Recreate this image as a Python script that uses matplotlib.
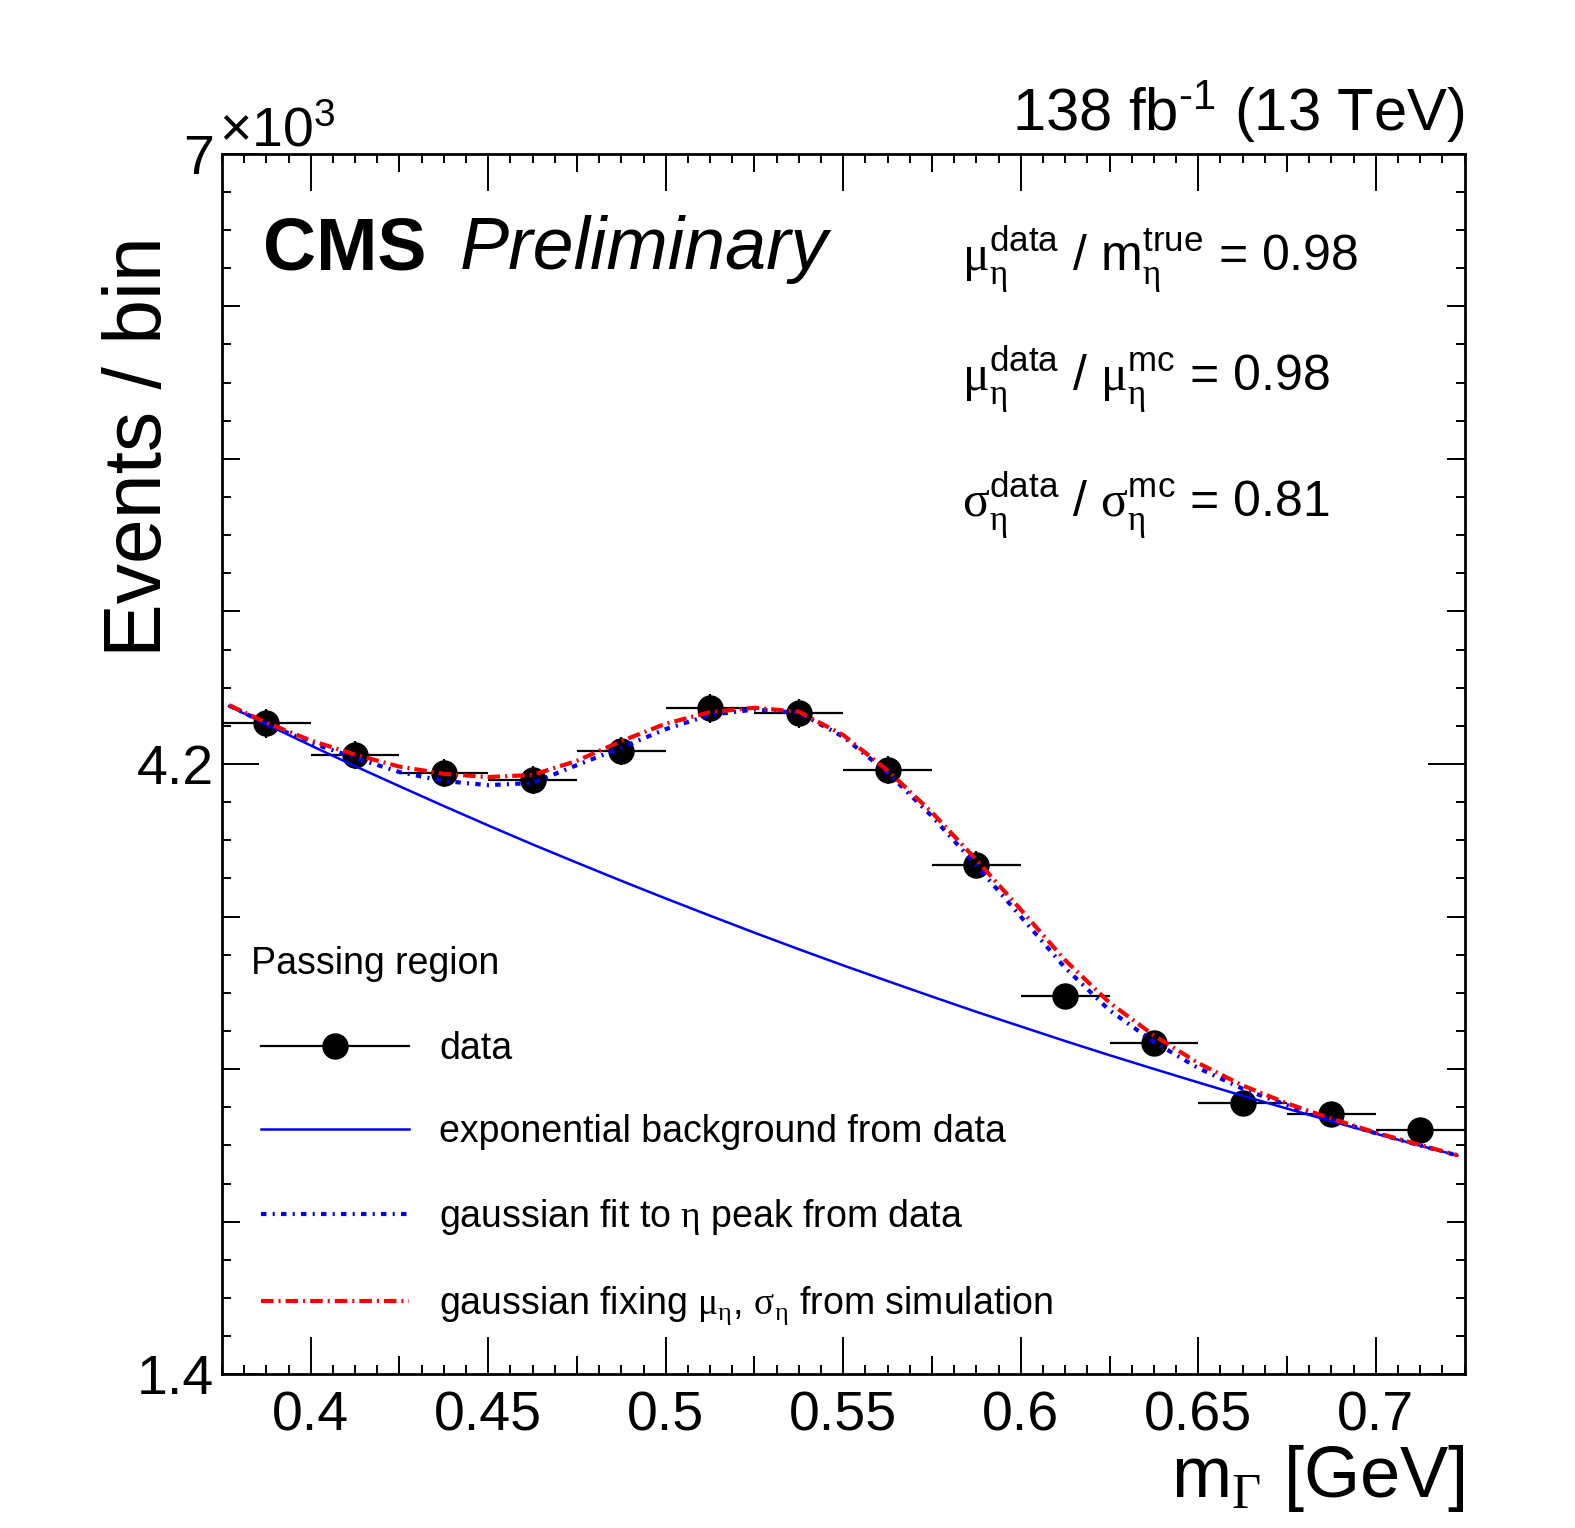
import numpy as np
import matplotlib
matplotlib.use("Agg")
import matplotlib.pyplot as plt
from matplotlib.lines import Line2D
from matplotlib.ticker import MultipleLocator

plt.rcParams['font.family'] = ['Liberation Sans', 'DejaVu Sans']
plt.rcParams['mathtext.fontset'] = 'custom'
plt.rcParams['mathtext.rm'] = 'Liberation Sans'
plt.rcParams['mathtext.it'] = 'Liberation Sans:italic'
plt.rcParams['mathtext.bf'] = 'Liberation Sans:bold'
plt.rcParams['mathtext.sf'] = 'Liberation Serif'  # used for the greek letters

# data histogram (bin centres, counts, stat errors)
bin_centers = [0.3875, 0.4125, 0.4375, 0.4625, 0.4875, 0.5125, 0.5375,
               0.5625, 0.5875, 0.6125, 0.6375, 0.6625, 0.6875, 0.7125]
bin_width = 0.025
counts = [4386, 4240, 4159, 4125, 4260, 4456, 4433,
          4171, 3738, 3134, 2922, 2646, 2592, 2523]
count_err = [66, 65, 64, 64, 65, 67, 67, 65, 61, 56, 54, 51, 51, 50]

# fit curves
curve_x = [0.377, 0.3875, 0.4, 0.4125, 0.425, 0.4375, 0.45, 0.4625, 0.475,
           0.4875, 0.5, 0.5125, 0.525, 0.5375, 0.55, 0.5625, 0.575, 0.5875,
           0.6, 0.6125, 0.625, 0.6375, 0.65, 0.6625, 0.675, 0.6875, 0.7,
           0.7125, 0.723]
bkg_exp = [4465, 4382, 4285, 4190, 4098, 4007, 3918, 3831, 3747,
           3664, 3583, 3504, 3426, 3350, 3276, 3204, 3133, 3063,
           2996, 2929, 2864, 2801, 2739, 2678, 2619, 2561, 2504,
           2449, 2404]
fit_data = [4468, 4385, 4298, 4228, 4163, 4122, 4103, 4113, 4195,
            4275, 4360, 4425, 4450, 4435, 4325, 4160, 3960, 3735,
            3500, 3265, 3070, 2925, 2805, 2710, 2635, 2568, 2506,
            2450, 2404]
fit_mc = [4470, 4390, 4308, 4243, 4188, 4155, 4140, 4150, 4215,
          4305, 4385, 4438, 4458, 4440, 4333, 4170, 3978, 3760,
          3532, 3300, 3105, 2955, 2828, 2725, 2643, 2573, 2509,
          2452, 2405]

y_ticks = [1400, 4200, 7000]
y_ticklabels = ['1.4', '4.2', '7']
x_ticks = [0.4, 0.45, 0.5, 0.55, 0.6, 0.65, 0.7]
x_ticklabels = ['0.4', '0.45', '0.5', '0.55', '0.6', '0.65', '0.7']

blue_dash = (0, (1.3, 1.5, 0.5, 1.5))
red_dash = (0, (3.0, 1.2, 0.5, 1.2))

W, H = 1568, 1521   # layout measured on this grid


def fx(p):
    return p / W


def fy(p):
    return 1 - p / H


fig = plt.figure(figsize=(15.75, 15.28), dpi=100)
pos = [fx(221), fy(1368), fx(1458) - fx(221), fy(153) - fy(1368)]
ax = fig.add_axes(pos)

ax.errorbar(bin_centers, counts, xerr=bin_width / 2, yerr=count_err,
            fmt='o', color='black', ms=18, elinewidth=1.6, capsize=0, zorder=3)
ax.plot(curve_x, bkg_exp, color='blue', lw=1.8, zorder=4)
ax.plot(curve_x, fit_data, color='blue', lw=3, ls=blue_dash, zorder=5)
ax.plot(curve_x, fit_mc, color='red', lw=3, ls=red_dash, zorder=6)

ax.set_xlim(0.375, 0.725)
ax.set_ylim(1400, 7000)
ax.set_xticks(x_ticks, x_ticklabels)
ax.set_yticks(y_ticks, y_ticklabels)
ax.xaxis.set_minor_locator(MultipleLocator(0.00625))
ax.yaxis.set_minor_locator(MultipleLocator(175))
ax.tick_params(which='both', direction='in', top=True, right=True, width=1.4)
ax.tick_params(which='major', length=26.5, labelsize=40)
ax.tick_params(which='minor', length=6.5)
ax.tick_params(axis='x', which='major', pad=12)
ax.tick_params(axis='y', which='major', pad=6)
for sp in ax.spines.values():
    sp.set_linewidth(2)

# medium ticks (ROOT style) on an overlay axes
ax2 = fig.add_axes(pos, frameon=False)
ax2.set_xlim(0.375, 0.725)
ax2.set_ylim(1400, 7000)
ax2.set_xticks(np.arange(0.425, 0.72, 0.05))
ax2.set_yticks([2100, 2800, 3500, 4900, 5600, 6300])
ax2.tick_params(direction='in', length=13, width=1.4, top=True, right=True,
                labelbottom=False, labelleft=False)

# legend
handles = [Line2D([], [], color='black', marker='o', ms=18, lw=1.6),
           Line2D([], [], color='blue', lw=1.8),
           Line2D([], [], color='blue', lw=3, ls=blue_dash),
           Line2D([], [], color='red', lw=3, ls=red_dash)]
labels = ['data', 'exponential background from data',
          r'gaussian fit to $\mathsf{\eta}$ peak from data',
          r'gaussian fixing $\mathsf{\mu}_{\mathsf{\eta}}$, '
          r'$\mathsf{\sigma}_{\mathsf{\eta}}$ from simulation']
leg = fig.legend(handles, labels, loc='upper left',
                 bbox_to_anchor=(fx(260), fy(1026)),
                 bbox_transform=fig.transFigure, frameon=False, fontsize=27,
                 handlelength=3.95, handletextpad=0.8, labelspacing=1.26,
                 numpoints=1, borderaxespad=0, borderpad=0)
fig.text(fx(250), fy(960), 'Passing region', fontsize=27, va='center')

# texts
fig.text(fx(139), fy(445), 'Events / bin', rotation=90,
         ha='center', va='center', fontsize=58)
fig.text(fx(1458), fy(1490), r'$\mathrm{m}_{\mathsf{\Gamma}}$ [GeV]',
         ha='right', va='baseline', fontsize=52)
fig.text(fx(218), fy(146), r'$\times$10$^{3}$',
         ha='left', va='baseline', fontsize=40)
fig.text(fx(1458), fy(130), r'138 fb$^{\text{-1}}$ (13 TeV)',
         ha='right', va='baseline', fontsize=43)
fig.text(fx(262), fy(268), 'CMS', fontweight='bold',
         fontsize=53, va='baseline')
fig.text(fx(458), fy(268), 'Preliminary', style='italic',
         fontsize=53, va='baseline')
fig.text(fx(958), fy(270),
         r'$\mathsf{\mu}_{\mathsf{\eta}}^{\rm data}$ / '
         r'$\mathrm{m}_{\mathsf{\eta}}^{\rm true}$ = 0.98',
         fontsize=36, va='baseline')
fig.text(fx(958), fy(390),
         r'$\mathsf{\mu}_{\mathsf{\eta}}^{\rm data}$ / '
         r'$\mathsf{\mu}_{\mathsf{\eta}}^{\rm mc}$ = 0.98',
         fontsize=36, va='baseline')
fig.text(fx(958), fy(515),
         r'$\mathsf{\sigma}_{\mathsf{\eta}}^{\rm data}$ / '
         r'$\mathsf{\sigma}_{\mathsf{\eta}}^{\rm mc}$ = 0.81',
         fontsize=36, va='baseline')

fig.savefig('out.png', dpi=100)
